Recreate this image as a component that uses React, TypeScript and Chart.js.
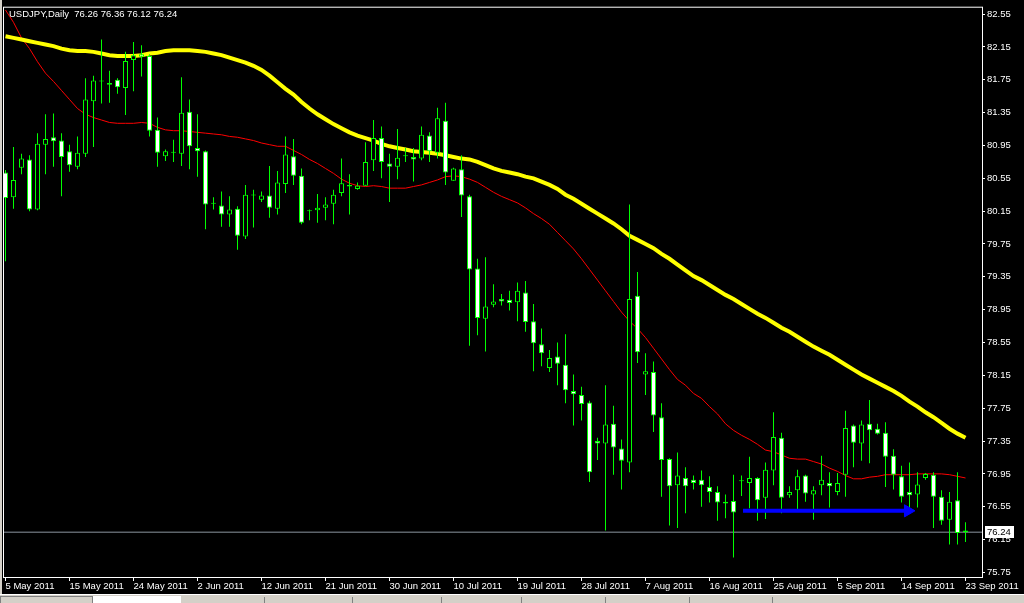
import React, { useEffect, useRef } from "react";
import { Chart, registerables } from "chart.js";
Chart.register(...registerables);

// ---- Data (USDJPY Daily, MT4) ----
const dates = [
  "5 May", "6 May", "8 May", "9 May", "10 May", "11 May", "12 May", "13 May",
  "15 May", "16 May", "17 May", "18 May", "19 May", "20 May", "22 May", "23 May",
  "24 May", "25 May", "26 May", "27 May", "29 May", "30 May", "31 May", "1 Jun",
  "2 Jun", "3 Jun", "5 Jun", "6 Jun", "7 Jun", "8 Jun", "9 Jun", "10 Jun",
  "12 Jun", "13 Jun", "14 Jun", "15 Jun", "16 Jun", "17 Jun", "19 Jun", "20 Jun",
  "21 Jun", "22 Jun", "23 Jun", "24 Jun", "26 Jun", "27 Jun", "28 Jun", "29 Jun",
  "30 Jun", "1 Jul", "3 Jul", "4 Jul", "5 Jul", "6 Jul", "7 Jul", "8 Jul",
  "10 Jul", "11 Jul", "12 Jul", "13 Jul", "14 Jul", "15 Jul", "17 Jul", "18 Jul",
  "19 Jul", "20 Jul", "21 Jul", "22 Jul", "24 Jul", "25 Jul", "26 Jul", "27 Jul",
  "28 Jul", "29 Jul", "31 Jul", "1 Aug", "2 Aug", "3 Aug", "4 Aug", "5 Aug",
  "7 Aug", "8 Aug", "9 Aug", "10 Aug", "11 Aug", "12 Aug", "14 Aug", "15 Aug",
  "16 Aug", "17 Aug", "18 Aug", "19 Aug", "21 Aug", "22 Aug", "23 Aug", "24 Aug",
  "25 Aug", "26 Aug", "28 Aug", "29 Aug", "30 Aug", "31 Aug", "1 Sep", "2 Sep",
  "5 Sep", "6 Sep", "7 Sep", "8 Sep", "9 Sep", "11 Sep", "12 Sep", "13 Sep",
  "14 Sep", "15 Sep", "16 Sep", "18 Sep", "19 Sep", "20 Sep", "21 Sep", "22 Sep",
  "23 Sep",
];

const openPrices = [
  80.62, 80.32, 80.68, 80.78, 80.17, 80.96, 81.05, 81.01, 80.88, 80.69,
  80.85, 81.49, 81.73, 81.71, 81.75, 81.65, 81.99, 82.06, 82.04, 81.14,
  80.82, 80.86, 80.85, 81.36, 80.92, 80.88, 80.24, 80.22, 80.11, 80.18,
  79.84, 80.34, 80.29, 80.34, 80.18, 80.48, 80.82, 80.58, 80.15, 80.16,
  80.19, 80.24, 80.37, 80.47, 80.42, 80.46, 80.77, 81.04, 80.73, 80.69,
  80.82, 80.81, 80.79, 81.07, 80.86, 81.25, 80.52, 80.66, 80.33, 79.45,
  78.84, 79.01, 79.08, 79.07, 79.04, 79.16, 78.81, 78.53, 78.24, 78.38,
  78.28, 77.96, 77.91, 77.82, 77.35, 77.32, 77.56, 77.26, 77.09, 79.12,
  78.16, 78.19, 77.64, 77.13, 76.81, 76.90, 76.88, 76.88, 76.79, 76.73,
  76.61, 76.62, 76.86, 76.84, 76.90, 76.66, 76.99, 77.39, 76.69, 76.75,
  76.93, 76.70, 76.81, 76.84, 76.73, 76.94, 77.54, 77.32, 77.56, 77.50,
  77.45, 77.17, 76.92, 76.73, 76.70, 76.90, 76.94, 76.67, 76.39, 76.63,
  76.26,
];
const highPrices = [
  80.65, 80.93, 80.85, 80.83, 81.10, 81.33, 81.34, 81.10, 80.96, 81.06,
  81.77, 81.80, 82.24, 81.86, 81.77, 82.09, 82.21, 82.17, 82.06, 81.29,
  80.90, 81.02, 81.78, 81.51, 81.33, 80.89, 80.32, 80.39, 80.33, 80.21,
  80.47, 80.41, 80.39, 80.70, 80.64, 81.06, 81.03, 80.67, 80.17, 80.36,
  80.32, 80.41, 80.79, 80.60, 80.50, 80.99, 81.26, 81.18, 80.85, 81.15,
  80.92, 80.92, 81.18, 81.11, 81.41, 81.47, 80.68, 80.83, 80.35, 79.57,
  79.59, 79.26, 79.14, 79.18, 79.28, 79.30, 79.02, 78.72, 78.46, 78.55,
  78.65, 78.16, 78.01, 77.84, 77.39, 78.03, 77.78, 77.37, 80.23, 79.41,
  78.42, 78.32, 77.81, 77.14, 77.21, 77.03, 76.93, 76.99, 76.92, 76.80,
  76.70, 76.94, 76.93, 77.16, 76.91, 77.09, 77.70, 77.45, 76.80, 77.00,
  76.94, 76.80, 77.17, 76.97, 76.96, 77.72, 77.55, 77.60, 77.85, 77.56,
  77.58, 77.25, 77.05, 77.09, 76.97, 76.96, 76.97, 76.75, 76.73, 76.97,
  76.36,
];
const lowPrices = [
  79.54, 80.18, 80.60, 80.15, 80.16, 80.60, 80.69, 80.33, 80.63, 80.66,
  80.81, 80.93, 81.46, 81.47, 81.58, 81.32, 81.61, 81.79, 81.06, 80.69,
  80.76, 80.75, 80.70, 80.66, 80.57, 79.93, 80.17, 79.96, 79.96, 79.68,
  79.81, 79.95, 80.26, 80.07, 80.11, 80.37, 80.47, 79.99, 80.04, 80.01,
  80.04, 79.99, 80.33, 80.11, 80.41, 80.46, 80.64, 80.55, 80.26, 80.54,
  80.75, 80.51, 80.77, 80.75, 80.79, 80.47, 80.52, 80.08, 78.51, 78.64,
  78.44, 78.98, 79.00, 78.94, 78.81, 78.68, 78.20, 78.26, 78.19, 78.03,
  77.81, 77.54, 77.60, 76.85, 77.12, 76.26, 76.94, 76.76, 76.97, 78.30,
  77.91, 77.46, 76.67, 76.32, 76.29, 76.47, 76.76, 76.55, 76.60, 76.38,
  76.41, 75.93, 76.68, 76.53, 76.38, 76.40, 76.81, 76.47, 76.66, 76.52,
  76.61, 76.39, 76.69, 76.54, 76.69, 76.67, 77.03, 77.11, 77.08, 77.43,
  76.79, 76.76, 76.60, 76.52, 76.54, 76.88, 76.29, 76.33, 76.09, 76.09,
  76.12,
];
const closePrices = [
  80.31, 80.53, 80.79, 80.17, 80.97, 81.03, 81.00, 80.81, 80.71, 80.86,
  81.51, 81.74, 81.73, 81.69, 81.66, 81.98, 82.05, 82.03, 81.13, 80.86,
  80.88, 80.86, 81.35, 80.94, 80.88, 80.23, 80.24, 80.11, 80.17, 79.85,
  80.35, 80.34, 80.34, 80.19, 80.50, 80.84, 80.58, 80.01, 80.15, 80.19,
  80.23, 80.35, 80.49, 80.45, 80.46, 80.75, 81.04, 80.75, 80.69, 80.80,
  80.82, 80.78, 81.08, 80.88, 81.28, 80.62, 80.67, 80.34, 79.44, 78.85,
  78.99, 79.05, 79.05, 79.03, 79.18, 78.80, 78.54, 78.42, 78.36, 78.29,
  77.97, 77.92, 77.80, 76.97, 77.32, 77.55, 77.27, 77.11, 79.08, 78.43,
  78.20, 77.66, 77.12, 76.80, 76.93, 76.80, 76.84, 76.81, 76.73, 76.60,
  76.59, 76.48, 76.86, 76.90, 76.63, 77.00, 77.40, 76.66, 76.73, 76.92,
  76.71, 76.75, 76.88, 76.80, 76.84, 77.51, 77.33, 77.55, 77.48, 77.44,
  77.16, 76.94, 76.67, 76.69, 76.82, 76.95, 76.67, 76.38, 76.61, 76.23,
  76.24,
];

// Yellow (slow) moving average
const maSlow = [
  82.28, 82.26, 82.24, 82.22, 82.20, 82.18, 82.16, 82.13, 82.11, 82.10,
  82.10, 82.09, 82.07, 82.05, 82.04, 82.04, 82.04, 82.05, 82.07, 82.08,
  82.10, 82.11, 82.11, 82.11, 82.10, 82.09, 82.07, 82.05, 82.02, 81.99,
  81.96, 81.92, 81.87, 81.80, 81.72, 81.64, 81.57, 81.48, 81.40, 81.33,
  81.27, 81.21, 81.16, 81.11, 81.07, 81.04, 81.01, 80.97, 80.94, 80.92,
  80.90, 80.88, 80.87, 80.86, 80.85, 80.83, 80.81, 80.79, 80.78, 80.75,
  80.71, 80.67, 80.64, 80.62, 80.60, 80.57, 80.55, 80.51, 80.47, 80.42,
  80.35, 80.30, 80.24, 80.18, 80.12, 80.06, 80.00, 79.93, 79.85, 79.80,
  79.75, 79.70, 79.63, 79.57, 79.50, 79.43, 79.36, 79.31, 79.25, 79.19,
  79.13, 79.08, 79.02, 78.96, 78.90, 78.85, 78.79, 78.73, 78.68, 78.62,
  78.56, 78.50, 78.45, 78.40, 78.34, 78.28, 78.22, 78.16, 78.11, 78.06,
  78.01, 77.96, 77.90, 77.83, 77.77, 77.70, 77.64, 77.57, 77.50, 77.44,
  77.39,
];
// Red (fast) moving average
const maFast = [
  82.60, 82.45, 82.26, 82.13, 81.97, 81.83, 81.73, 81.62, 81.51, 81.40,
  81.33, 81.29, 81.26, 81.23, 81.22, 81.22, 81.22, 81.23, 81.22, 81.17,
  81.14, 81.13, 81.13, 81.12, 81.11, 81.10, 81.09, 81.08, 81.06, 81.05,
  81.03, 81.01, 80.98, 80.96, 80.94, 80.94, 80.89, 80.84, 80.78, 80.73,
  80.67, 80.61, 80.54, 80.49, 80.46, 80.45, 80.46, 80.45, 80.43, 80.43,
  80.43, 80.45, 80.47, 80.50, 80.53, 80.57, 80.58, 80.57, 80.54, 80.50,
  80.44, 80.38, 80.33, 80.29, 80.25, 80.19, 80.12, 80.06, 79.99, 79.89,
  79.79, 79.69, 79.57, 79.44, 79.31, 79.18, 79.05, 78.92, 78.81, 78.72,
  78.61, 78.48, 78.35, 78.22, 78.10, 78.03, 77.93, 77.87, 77.77, 77.68,
  77.56, 77.48, 77.42, 77.37, 77.31, 77.24, 77.22, 77.18, 77.14, 77.13,
  77.13, 77.10, 77.07, 77.02, 76.98, 76.93, 76.89, 76.89, 76.91, 76.92,
  76.94, 76.94, 76.94, 76.94, 76.95, 76.95, 76.95, 76.95, 76.94, 76.92,
  76.90,
];

const priceTicks = [
  82.55, 82.15, 81.75, 81.35, 80.95, 80.55, 80.15, 79.75, 79.35,
  78.95, 78.55, 78.15, 77.75, 77.35, 76.95, 76.55, 76.15, 75.75,
];
const dateTickIndex = [0, 8, 16, 24, 32, 40, 48, 56, 64, 72, 80, 88, 96, 104, 112, 120];
const dateTickLabels = [
  "5 May 2011", "15 May 2011", "24 May 2011", "2 Jun 2011", "12 Jun 2011",
  "21 Jun 2011", "30 Jun 2011", "10 Jul 2011", "19 Jul 2011", "28 Jul 2011",
  "7 Aug 2011", "16 Aug 2011", "25 Aug 2011", "5 Sep 2011", "14 Sep 2011",
  "23 Sep 2011",
];

const titleText = "USDJPY,Daily  76.26 76.36 76.12 76.24";
const lastPrice = 76.24;
const arrowPrice = 76.5;
const arrowFrom = 92.19; // bar index
const arrowTo = 112.81; // bar index

// ---- View settings ----
const X_MIN = -0.1875;
const X_MAX = 122.0625;
const Y_MAX = 82.628;
const Y_MIN = 75.694;
const FONT_FAMILY = "'Liberation Sans', Arial, sans-serif";
const FONT_SIZE = 9.5;
const GREEN = "#00ff00";

const mt4Decor = {
  id: "mt4Decor",
  afterDraw(chart: any) {
    const { ctx, chartArea } = chart;
    const yScale = chart.scales.y;
    ctx.save();
    // frame
    ctx.strokeStyle = "#ffffff";
    ctx.lineWidth = 1;
    ctx.strokeRect(chartArea.left - 0.5, chartArea.top - 0.5, chartArea.right - chartArea.left + 1, chartArea.bottom - chartArea.top + 1);
    // title
    ctx.font = `${FONT_SIZE}px ${FONT_FAMILY}`;
    ctx.fillStyle = "#ffffff";
    ctx.textBaseline = "alphabetic";
    ctx.textAlign = "left";
    ctx.fillText(titleText, 9, 17);
    // last price label
    const py = yScale.getPixelForValue(lastPrice);
    ctx.fillStyle = "#ffffff";
    ctx.fillRect(985, Math.round(py) - 6, 29, 12);
    ctx.fillStyle = "#000000";
    ctx.textBaseline = "middle";
    ctx.fillText(lastPrice.toFixed(2), 987, Math.round(py) + 0.5);
    // window chrome: left border and bottom tab strip
    ctx.fillStyle = "#d4d0c8";
    ctx.fillRect(0, 0, 2, 594);
    ctx.fillStyle = "#ffffff";
    ctx.fillRect(0, 594, 1024, 1);
    ctx.fillStyle = "#d4d0c8";
    ctx.fillRect(0, 595, 1024, 8);
    ctx.fillStyle = "#ffffff";
    ctx.fillRect(93, 596, 88, 7);
    ctx.strokeStyle = "#808080";
    ctx.strokeRect(0.5, 596.5, 92, 7);
    ctx.fillStyle = "#808080";
    [264, 352, 441, 521, 605, 689, 772].forEach((x) => ctx.fillRect(x, 597, 1, 6));
    ctx.restore();
  },
};

export default function App() {
  const canvasRef = useRef<HTMLCanvasElement | null>(null);

  useEffect(() => {
    if (!canvasRef.current) return;
    const bodies = dates.map((_, i) => ({ x: i, y: [openPrices[i], closePrices[i]] }));
    const wicks = dates.map((_, i) => ({ x: i, y: [lowPrices[i], highPrices[i]] }));
    const slow = dates.map((_, i) => ({ x: i, y: maSlow[i] }));
    const fast = dates.map((_, i) => ({ x: i, y: maFast[i] }));
    const font = { family: FONT_FAMILY, size: FONT_SIZE };

    const chart = new Chart(canvasRef.current, {
      type: "bar",
      data: {
        datasets: [
          {
            type: "line",
            label: "arrow",
            data: [
              { x: arrowFrom, y: arrowPrice },
              { x: arrowTo, y: arrowPrice },
            ],
            borderColor: "#0000ff",
            borderWidth: 4,
            pointRadius: [0, 7],
            pointStyle: "triangle",
            pointRotation: 90,
            pointBackgroundColor: "#0000ff",
            pointBorderColor: "#0000ff",
            pointBorderWidth: 1,
            order: 0,
            clip: 0,
          } as any,
          {
            type: "bar",
            label: "body",
            data: bodies as any,
            backgroundColor: (c: any) =>
              closePrices[c.dataIndex] < openPrices[c.dataIndex] ? "#ffffff" : "#000000",
            borderColor: GREEN,
            borderWidth: 1,
            borderSkipped: false,
            barThickness: 5,
            minBarLength: 1,
            inflateAmount: 0,
            grouped: false,
            order: 1,
            clip: 0,
          } as any,
          {
            type: "bar",
            label: "wick",
            data: wicks as any,
            backgroundColor: GREEN,
            borderWidth: 0,
            barThickness: 1,
            inflateAmount: 0,
            grouped: false,
            order: 2,
            clip: 0,
          } as any,
          {
            type: "line",
            label: "MA slow",
            data: slow,
            borderColor: "#ffff00",
            borderWidth: 4,
            pointRadius: 0,
            tension: 0,
            order: 3,
            clip: 0,
          } as any,
          {
            type: "line",
            label: "MA fast",
            data: fast,
            borderColor: "#ff0000",
            borderWidth: 1,
            pointRadius: 0,
            tension: 0,
            order: 4,
            clip: 0,
          } as any,
          {
            type: "line",
            label: "last",
            data: [
              { x: X_MIN - 1, y: lastPrice },
              { x: X_MAX + 1, y: lastPrice },
            ],
            borderColor: "#8c96a0",
            borderWidth: 1,
            pointRadius: 0,
            order: 5,
            clip: 0,
          } as any,
        ],
      },
      options: {
        animation: false,
        responsive: false,
        maintainAspectRatio: false,
        devicePixelRatio: 1,
        events: [],
        layout: { autoPadding: false, padding: { left: 4, top: 6, right: 0, bottom: 0 } },
        plugins: {
          legend: { display: false },
          tooltip: { enabled: false },
          title: { display: false },
        },
        scales: {
          x: {
            type: "linear",
            position: "bottom",
            offset: false,
            min: X_MIN,
            max: X_MAX,
            afterBuildTicks: (s: any) => {
              s.ticks = dateTickIndex.map((v) => ({ value: v }));
            },
            afterFit: (s: any) => {
              s.height = 26;
            },
            ticks: {
              autoSkip: false,
              maxRotation: 0,
              minRotation: 0,
              align: "start",
              color: "#ffffff",
              font,
              padding: 0,
              callback: (v: any) => {
                const k = dateTickIndex.indexOf(Number(v));
                return k >= 0 ? dateTickLabels[k] : "";
              },
            },
            grid: { display: true, offset: false, drawOnChartArea: false, drawTicks: true, tickLength: 4, color: "#ffffff" },
            border: { display: true, color: "#ffffff" },
          },
          y: {
            type: "linear",
            position: "right",
            min: Y_MIN,
            max: Y_MAX,
            afterBuildTicks: (s: any) => {
              s.ticks = priceTicks.map((v) => ({ value: v }));
            },
            afterFit: (s: any) => {
              s.width = 42;
            },
            ticks: {
              autoSkip: false,
              color: "#ffffff",
              font,
              padding: 2,
              callback: (v: any) => Number(v).toFixed(2),
            },
            grid: { display: true, drawOnChartArea: false, drawTicks: true, tickLength: 3, color: "#ffffff" },
            border: { display: true, color: "#ffffff" },
          },
        },
      } as any,
      plugins: [mt4Decor],
    });
    return () => chart.destroy();
  }, []);

  return (
    <div style={{ position: "fixed", left: 0, top: 0, width: 1024, height: 603, background: "#000000" }}>
      <canvas ref={canvasRef} width={1024} height={603} style={{ display: "block", width: 1024, height: 603 }} />
    </div>
  );
}
